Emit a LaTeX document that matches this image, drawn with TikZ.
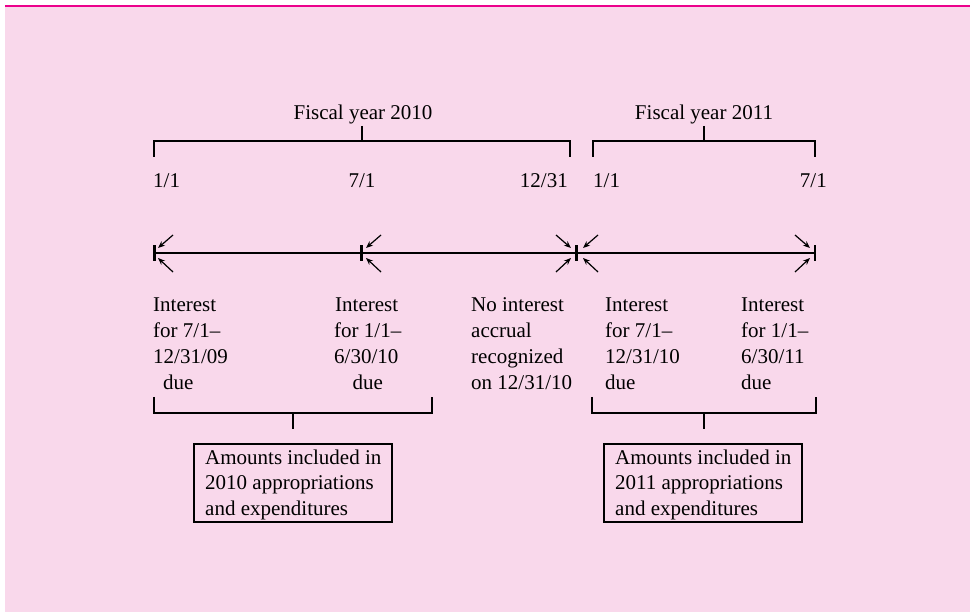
\documentclass[tikz,border=0pt]{standalone}
\usepackage{fontspec}
\setmainfont{Liberation Serif}
\usetikzlibrary{arrows.meta}
\definecolor{panelpink}{RGB}{249,216,235}
\definecolor{rulemagenta}{RGB}{236,0,140}
\begin{document}
\begin{tikzpicture}[x=1pt,y=-1pt,
  lbl/.style={inner sep=0pt, font=\fontsize{21}{26}\selectfont, align=left},
  boxtext/.style={inner sep=0pt, font=\fontsize{21}{25.5}\selectfont, align=left, anchor=base west},
  sumframe/.style={line width=2.4pt},
  brk/.style={line width=2.9pt, line join=miter},
  axisthick/.style={line width=2.9pt},
  axisthin/.style={line width=2pt},
  tickmark/.style={line width=2.6pt},
  ptr/.style={line width=1.2pt, -{Stealth[length=7pt,width=5.5pt]}}]
\useasboundingbox (0,0) rectangle (970,612);
% panel and top rule
\fill[panelpink] (5,6) rectangle (970,612);
\draw[rulemagenta, line width=2pt] (5,6) -- (970,6);

% fiscal-year headings with their brackets
\node[lbl, anchor=base] (fy10) at (363,120) {Fiscal year 2010};
\node[lbl, anchor=base] (fy11) at (704,120) {Fiscal year 2011};
\draw[brk] (154,157) |- (570,141) -- (570,157);
\draw[brk] (362,126) -- (362,141);
\draw[brk] (593,157) |- (815,141) -- (815,157);
\draw[brk] (704,126) -- (704,141);

% dates
\node[lbl, anchor=base west] (d1) at (153,188) {1/1};
\node[lbl, anchor=base] (d2) at (362,188) {7/1};
\node[lbl, anchor=base east] (d3) at (568,188) {12/31};
\node[lbl, anchor=base west] (d4) at (593,188) {1/1};
\node[lbl, anchor=base east] (d5) at (827,188) {7/1};

% time line
\coordinate (t1) at (154.5,253);
\coordinate (t2) at (361.5,253);
\coordinate (t3) at (576.5,253);
\coordinate (t4) at (815,253);
\draw[axisthick] (t1) -- (t3);
\draw[axisthin] (t3) -- (t4);
\foreach \t in {t1,t2,t3,t4}
  \draw[tickmark] ([yshift=-8pt]\t) -- ([yshift=8pt]\t);

% pointers onto the payment dates
\coordinate (a1u) at (173,235); \coordinate (h1u) at (158,248);
\coordinate (a1d) at (173,272); \coordinate (h1d) at (158,258);
\coordinate (a2u) at (381,235); \coordinate (h2u) at (366,248);
\coordinate (a2d) at (381,272); \coordinate (h2d) at (366,258);
\coordinate (a3lu) at (556,235); \coordinate (h3lu) at (571,248);
\coordinate (a3ld) at (556,272); \coordinate (h3ld) at (571,258);
\coordinate (a3ru) at (598,235); \coordinate (h3ru) at (583,248);
\coordinate (a3rd) at (598,272); \coordinate (h3rd) at (583,258);
\coordinate (a4u) at (795,235); \coordinate (h4u) at (810,248);
\coordinate (a4d) at (795,272); \coordinate (h4d) at (810,258);
\foreach \a/\h in {a1u/h1u,a1d/h1d,a2u/h2u,a2d/h2d,a3lu/h3lu,a3ld/h3ld,a3ru/h3ru,a3rd/h3rd,a4u/h4u,a4d/h4d}
  \draw[ptr] (\a) -- (\h);

% notes under the time line (anchored on the baseline of the last line)
\node[lbl, anchor=base west] (n1) at (153,390) {Interest\\for 7/1–\\12/31/09\\\hspace*{10pt}due};
\node[lbl, anchor=base west] (n2) at (334,390) {\hspace*{1pt}Interest\\for 1/1–\\6/30/10\\\hspace*{18.5pt}due};
\node[lbl, anchor=base west] (n3) at (471,390) {No interest\\accrual\\recognized\\on 12/31/10};
\node[lbl, anchor=base west] (n4) at (605,390) {Interest\\for 7/1–\\12/31/10\\due};
\node[lbl, anchor=base west] (n5) at (741,390) {Interest\\for 1/1–\\6/30/11\\due};

% lower brackets
\draw[brk] (154,397) |- (432,413) -- (432,397);
\draw[brk] (293,413) -- (293,429);
\draw[brk] (592,397) |- (816,413) -- (816,397);
\draw[brk] (704,413) -- (704,429);

% summary boxes
\node[boxtext] (s1) at (205,515) {Amounts included in\\2010 appropriations\\and expenditures};
\draw[sumframe] (194,444) rectangle (392,522);
\node[boxtext] (s2) at (615,515) {Amounts included in\\2011 appropriations\\and expenditures};
\draw[sumframe] (604,444) rectangle (802,522);
\end{tikzpicture}
\end{document}
